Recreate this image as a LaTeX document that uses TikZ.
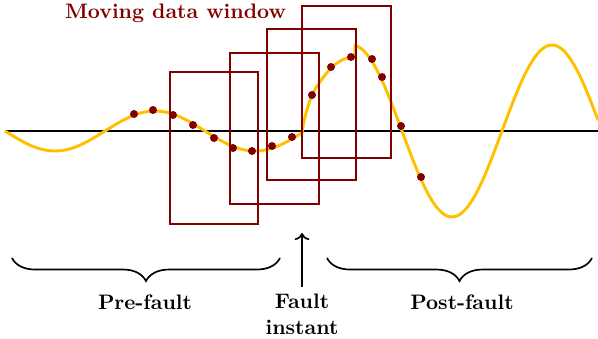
\documentclass[tikz,border=0pt]{standalone}
\usetikzlibrary{decorations.pathreplacing,arrows.meta}
\definecolor{darkred}{RGB}{128,0,0}
\definecolor{amber}{RGB}{255,192,0}

\begin{document}
\begin{tikzpicture}
  [
    x = 0.4773pt, y = -0.4773pt,
    axis line/.style = {line width=1pt},
    signal/.style = {amber,line width=1.4pt,line join=round},
    window/.style = {darkred,line width=1.3pt},
    sample/.style = {fill=darkred},
    period brace/.style = {thick,decorate,decoration={brace,amplitude=11pt,mirror}},
    period label/.style = {font=\bfseries},
    > = To,
  ]

  \useasboundingbox (0,0) rectangle (598,339);

  \draw [axis line] (5,131) -- (598,131);

  \draw [signal] plot [domain=5:302,samples=80] (\x,{131+20*sin(1.8*(\x-5))})
    -- plot [smooth] coordinates {(302,133) (305,117) (312,95) (322,79) (332,67) (342,60) (352,57) (355,56.5)}
    -- plot [domain=355:598,samples=100] (\x,{131+86*sin(1.8*(\x-402))});

  \draw [window] (170,72) rectangle (258,224);
  \draw [window] (230,53) rectangle (319,204);
  \draw [window] (267,29) rectangle (356,180);
  \draw [window] (302,6)  rectangle (391,158);

  \foreach \t/\v in {134/114,153/110,173/115,193/125,214/138,233/148,252/151,272/146,
                     292/137,312/95,331/67,351/57,372/59,382/77,401/126,421/177}
    \fill [sample] (\t,\v) circle [radius=1.9pt];

  \node [period label,darkred,anchor=base] (title) at (175.5,18.3) {Moving data window};

  \coordinate (pre start)  at (12,258);
  \coordinate (pre end)    at (280,258);
  \coordinate (post start) at (327,258);
  \coordinate (post end)   at (592,258);
  \coordinate (fault tip)  at (302,233);

  \draw [period brace] (pre start)  -- (pre end);
  \draw [period brace] (post start) -- (post end);

  \node [period label,anchor=base] (pre)  at (145,309) {Pre-fault};
  \node [period label,anchor=base] (post) at (462,309) {Post-fault};
  \node [period label,align=center,anchor=north] (fault) at (302,287) {Fault\\instant};

  \draw [->,thick] (fault) -- (fault tip);

\end{tikzpicture}
\end{document}
